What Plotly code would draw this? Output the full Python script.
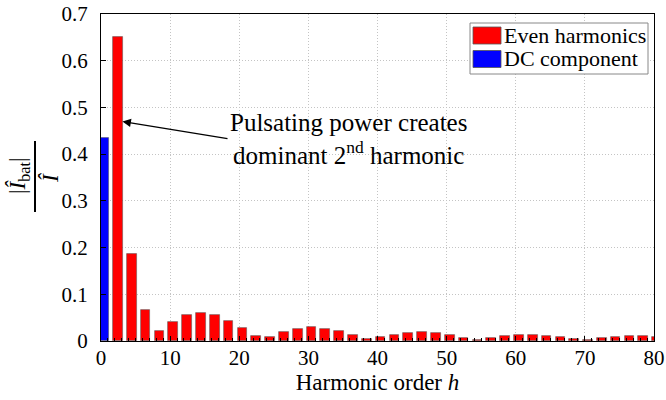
import plotly.graph_objects as go

# ---- data ----
harmonic_order = list(range(2, 81, 2))
even_harmonics = [0.650, 0.186, 0.067, 0.021, 0.040, 0.056, 0.060, 0.056, 0.043, 0.027,
                  0.011, 0.009, 0.019, 0.026, 0.029, 0.026, 0.021, 0.013, 0.005, 0.008,
                  0.013, 0.018, 0.019, 0.017, 0.013, 0.007, 0.003, 0.007, 0.011, 0.013,
                  0.013, 0.011, 0.009, 0.004, 0.002, 0.007, 0.009, 0.011, 0.011, 0.009]
dc_order = [0]
dc_component = [0.435]
x_ticks = [0, 10, 20, 30, 40, 50, 60, 70, 80]
y_ticks = [0, 0.1, 0.2, 0.3, 0.4, 0.5, 0.6, 0.7]
series_names = ["Even harmonics", "DC component"]

W, H = 666, 400
L, R, T, B = 101, 12, 14, 59
PW, PH = W - L - R, H - T - B

def px(xp):
    return (xp - L) / PW

def py(yp):
    return (H - B - yp) / PH

FONT = "Liberation Serif"
RED = "#ff0000"
BLUE = "#0000ff"
EDGE = "rgba(90,90,90,0.7)"

fig = go.Figure()
fig.add_trace(go.Bar(x=harmonic_order, y=even_harmonics, name=series_names[0],
                     width=1.4, offset=-0.25, marker=dict(color=RED, line=dict(color=EDGE, width=0.8)),
                     showlegend=False))
fig.add_trace(go.Bar(x=dc_order, y=dc_component, name=series_names[1],
                     width=1.4, offset=-0.25, marker=dict(color=BLUE, line=dict(color=EDGE, width=0.8)),
                     showlegend=False))

axis_common = dict(showline=True, linecolor="black", linewidth=1, mirror=True, automargin=False,
                   showgrid=True, gridcolor="#c4c4c4", griddash="1px,2px", gridwidth=1,
                   ticks="inside", tickcolor="black", zeroline=False,
                   tickfont=dict(family=FONT, size=21, color="black"))

fig.update_layout(
    width=W, height=H,
    margin=dict(l=L, r=R, t=T, b=B),
    paper_bgcolor="white", plot_bgcolor="white",
    font=dict(family=FONT, color="black"),
    bargap=0,
    xaxis=dict(range=[0, 80], tickvals=x_ticks, ticklen=5, ticklabelstandoff=-2,
               minor=dict(dtick=1, ticks="inside", ticklen=3, tickcolor="black", showgrid=False),
               title=dict(text="Harmonic order <i>h</i>", font=dict(family=FONT, size=23), standoff=4),
               **axis_common),
    yaxis=dict(range=[0, 0.7], tickvals=y_ticks, ticktext=[f"{v:g}" for v in y_ticks], ticklen=5,
               ticklabelstandoff=8, **axis_common),
)

# y-axis label as a fraction
fig.add_annotation(xref="paper", yref="paper", x=px(19), y=py(176), text="|<i>Î</i><sub>bat</sub>|",
                   textangle=-90, showarrow=False, font=dict(family=FONT, size=23),
                   xanchor="center", yanchor="middle")
fig.add_annotation(xref="paper", yref="paper", x=px(51), y=py(178), text="<i>Î</i>",
                   textangle=-90, showarrow=False, font=dict(family=FONT, size=23),
                   xanchor="center", yanchor="middle")
fig.add_shape(type="line", xref="paper", yref="paper", x0=px(35), x1=px(35), y0=py(141), y1=py(212),
              line=dict(color="black", width=2))

# text annotation with arrow pointing to the 2nd harmonic
fig.add_annotation(x=3.1, y=0.47, xref="x", yref="y", ax=18.3, ay=0.433, axref="x", ayref="y",
                   text="Pulsating power creates<br>dominant 2<sup>nd</sup> harmonic",
                   xanchor="left", yanchor="middle", align="center",
                   showarrow=True, arrowhead=2, arrowsize=1.3, arrowwidth=1.3, arrowcolor="black",
                   font=dict(family=FONT, size=25))

# legend box
fig.add_shape(type="rect", xref="paper", yref="paper", x0=px(470), x1=px(648), y0=py(74), y1=py(23),
              line=dict(color="#888888", width=1), fillcolor="white", layer="above")
for i, (name, col) in enumerate(zip(series_names, [RED, BLUE])):
    yc = 35.5 + i * 23.5
    fig.add_shape(type="rect", xref="paper", yref="paper", x0=px(473), x1=px(501),
                  y0=py(yc + 8.5), y1=py(yc - 8.5), line=dict(color="#555555", width=0.8),
                  fillcolor=col, layer="above")
    fig.add_annotation(xref="paper", yref="paper", x=px(502), y=py(yc), text=name, showarrow=False,
                       xanchor="left", yanchor="middle", font=dict(family=FONT, size=22))

fig.write_html("out.html", config={"displayModeBar": False},
               post_script="document.body.style.margin='0';document.body.style.padding='0';")
